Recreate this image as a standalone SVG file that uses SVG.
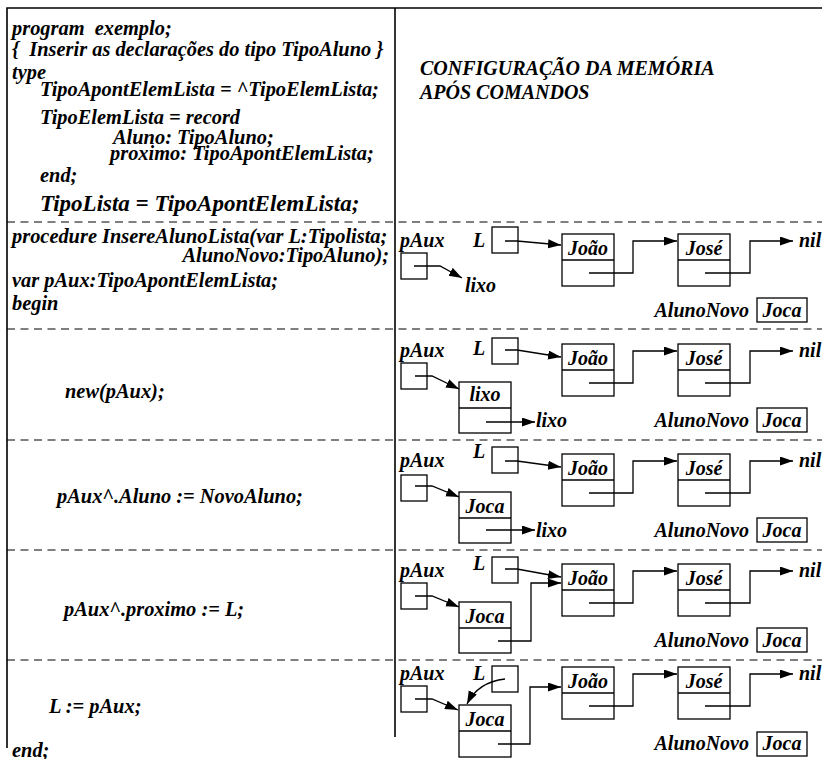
<svg xmlns="http://www.w3.org/2000/svg" width="822" height="759" viewBox="0 0 822 759">
<style>
text{font-family:"Liberation Serif","Times New Roman",serif;font-weight:bold;font-style:italic;font-size:20px;fill:#000}
#code text{font-size:20.4px}
#code text.big{font-size:23px}
.c{text-anchor:middle}
.e{text-anchor:end}
.box{fill:none;stroke:#000;stroke-width:1.3}
.frame{fill:none;stroke:#000;stroke-width:1.6}
.dash{fill:none;stroke:#000;stroke-width:1.2;stroke-dasharray:8 5.5}
.conn path{fill:none;stroke:#000;stroke-width:1.3;marker-end:url(#ah)}
</style>
<defs>
<marker id="ah" markerUnits="userSpaceOnUse" markerWidth="14" markerHeight="10" refX="13" refY="4.5" orient="auto">
<path d="M0,0 L13,4.5 L0,9 z" fill="#000"/>
</marker>
</defs>
<rect width="822" height="759" fill="#fff"/>

<g id="frame">
<path class="frame" d="M7,748 V8 H822"/>
<path class="frame" d="M395,8 V737"/>
<path class="dash" d="M7,222 H822 M7,329 H822 M7,440 H822 M7,550 H822 M7,660 H822"/>
</g>

<g id="code">
<text x="12" y="35" xml:space="preserve">program  exemplo;</text>
<text x="12" y="56" xml:space="preserve">{  Inserir as declarações do tipo TipoAluno }</text>
<text x="12" y="79">type</text>
<text x="40" y="96">TipoApontElemLista = ^TipoElemLista;</text>
<text x="40" y="124">TipoElemLista = record</text>
<text x="113" y="144">Aluno: TipoAluno;</text>
<text x="110" y="160">proximo: TipoApontElemLista;</text>
<text x="40" y="182">end;</text>
<text class="big" x="40" y="211">TipoLista = TipoApontElemLista;</text>
<text x="12" y="243">procedure InsereAlunoLista(var L:Tipolista;</text>
<text class="e" x="389" y="262">AlunoNovo:TipoAluno);</text>
<text x="12" y="287">var pAux:TipoApontElemLista;</text>
<text x="12" y="310">begin</text>
<text x="65" y="398">new(pAux);</text>
<text x="57" y="503">pAux^.Aluno := NovoAluno;</text>
<text x="64" y="616">pAux^.proximo := L;</text>
<text x="49" y="713">L := pAux;</text>
<text x="12" y="757">end;</text>
</g>

<g id="heading">
<text x="420" y="75">CONFIGURAÇÃO DA MEMÓRIA</text>
<text x="420" y="99">APÓS COMANDOS</text>
</g>

<!-- Row 1 -->
<g id="r1-pAux"><text x="400" y="247">pAux</text><rect class="box" x="401" y="253" width="26" height="26"/></g>
<g id="r1-L"><text x="473" y="247">L</text><rect class="box" x="492" y="227" width="26" height="26"/></g>
<g id="r1-joao"><rect class="box" x="562" y="234" width="52" height="52"/><path class="box" d="M562,260 H614"/><text class="c" x="588" y="255">João</text></g>
<g id="r1-jose"><rect class="box" x="678" y="234" width="52" height="52"/><path class="box" d="M678,260 H730"/><text class="c" x="704" y="255">José</text></g>
<g id="r1-nil"><text x="799" y="247">nil</text></g>
<g id="r1-lixo"><text x="465" y="292">lixo</text></g>
<g id="r1-novo"><text class="e" x="749" y="317">AlunoNovo</text><rect class="box" x="757" y="298" width="50" height="24"/><text class="c" x="782" y="317">Joca</text></g>

<!-- Row 2 -->
<g id="r2-pAux"><text x="400" y="357">pAux</text><rect class="box" x="401" y="363" width="26" height="26"/></g>
<g id="r2-L"><text x="473" y="355">L</text><rect class="box" x="492" y="338" width="26" height="26"/></g>
<g id="r2-joao"><rect class="box" x="562" y="344" width="52" height="52"/><path class="box" d="M562,370 H614"/><text class="c" x="588" y="365">João</text></g>
<g id="r2-jose"><rect class="box" x="678" y="344" width="52" height="52"/><path class="box" d="M678,370 H730"/><text class="c" x="704" y="365">José</text></g>
<g id="r2-nil"><text x="799" y="357">nil</text></g>
<g id="r2-new"><rect class="box" x="459" y="382" width="52" height="51"/><path class="box" d="M459,408 H511"/><text class="c" x="485" y="401">lixo</text></g>
<g id="r2-lixo"><text x="536" y="427">lixo</text></g>
<g id="r2-novo"><text class="e" x="749" y="427">AlunoNovo</text><rect class="box" x="757" y="408" width="50" height="24"/><text class="c" x="782" y="427">Joca</text></g>

<!-- Row 3 -->
<g id="r3-pAux"><text x="400" y="467">pAux</text><rect class="box" x="401" y="475" width="26" height="26"/></g>
<g id="r3-L"><text x="473" y="458">L</text><rect class="box" x="492" y="447" width="26" height="26"/></g>
<g id="r3-joao"><rect class="box" x="562" y="454" width="52" height="52"/><path class="box" d="M562,480 H614"/><text class="c" x="588" y="475">João</text></g>
<g id="r3-jose"><rect class="box" x="678" y="454" width="52" height="52"/><path class="box" d="M678,480 H730"/><text class="c" x="704" y="475">José</text></g>
<g id="r3-nil"><text x="799" y="467">nil</text></g>
<g id="r3-new"><rect class="box" x="459" y="492" width="52" height="51"/><path class="box" d="M459,518 H511"/><text class="c" x="485" y="513">Joca</text></g>
<g id="r3-lixo"><text x="536" y="537">lixo</text></g>
<g id="r3-novo"><text class="e" x="749" y="537">AlunoNovo</text><rect class="box" x="757" y="518" width="50" height="24"/><text class="c" x="782" y="537">Joca</text></g>

<!-- Row 4 -->
<g id="r4-pAux"><text x="400" y="577">pAux</text><rect class="box" x="401" y="583" width="26" height="26"/></g>
<g id="r4-L"><text x="473" y="570">L</text><rect class="box" x="492" y="557" width="26" height="26"/></g>
<g id="r4-joao"><rect class="box" x="562" y="564" width="52" height="52"/><path class="box" d="M562,590 H614"/><text class="c" x="588" y="585">João</text></g>
<g id="r4-jose"><rect class="box" x="678" y="564" width="52" height="52"/><path class="box" d="M678,590 H730"/><text class="c" x="704" y="585">José</text></g>
<g id="r4-nil"><text x="799" y="577">nil</text></g>
<g id="r4-new"><rect class="box" x="459" y="602" width="52" height="51"/><path class="box" d="M459,628 H511"/><text class="c" x="485" y="623">Joca</text></g>
<g id="r4-novo"><text class="e" x="749" y="647">AlunoNovo</text><rect class="box" x="757" y="628" width="50" height="24"/><text class="c" x="782" y="647">Joca</text></g>

<!-- Row 5 -->
<g id="r5-pAux"><text x="400" y="680">pAux</text><rect class="box" x="401" y="686" width="26" height="26"/></g>
<g id="r5-L"><text x="473" y="680">L</text><rect class="box" x="492" y="666" width="26" height="26"/></g>
<g id="r5-joao"><rect class="box" x="562" y="667" width="52" height="52"/><path class="box" d="M562,693 H614"/><text class="c" x="588" y="688">João</text></g>
<g id="r5-jose"><rect class="box" x="678" y="667" width="52" height="52"/><path class="box" d="M678,693 H730"/><text class="c" x="704" y="688">José</text></g>
<g id="r5-nil"><text x="799" y="680">nil</text></g>
<g id="r5-new"><rect class="box" x="459" y="705" width="52" height="52"/><path class="box" d="M459,731 H511"/><text class="c" x="485" y="726">Joca</text></g>
<g id="r5-novo"><text class="e" x="749" y="750">AlunoNovo</text><rect class="box" x="757" y="732" width="50" height="24"/><text class="c" x="782" y="750">Joca</text></g>

<g id="connectors" class="conn">
<path d="M505,241 H517 L561,245"/>
<path d="M414,266 H440 L462,278"/>
<path d="M589,273 H633 V241 H677"/>
<path d="M705,273 H750 V241 H793"/>

<path d="M505,350 H517 L561,357"/>
<path d="M415,376 H432 L459,389"/>
<path d="M589,383 H633 V351 H677"/>
<path d="M705,383 H750 V351 H793"/>
<path d="M486,422 H535"/>

<path d="M505,461 H517 L561,467"/>
<path d="M415,486 H432 L459,497"/>
<path d="M589,493 H633 V461 H677"/>
<path d="M705,493 H750 V461 H793"/>
<path d="M486,530 H535"/>

<path d="M505,569 H517 L561,577"/>
<path d="M415,596 H432 L459,607"/>
<path d="M589,603 H633 V571 H677"/>
<path d="M705,603 H750 V571 H793"/>
<path d="M498,641 H531 V583 H561"/>

<path d="M505,679 Q478,682 467,704"/>
<path d="M415,699 H432 L458,710"/>
<path d="M589,706 H633 V674 H677"/>
<path d="M705,706 H750 V674 H793"/>
<path d="M498,744 H530 V687 H561"/>
</g>
</svg>
